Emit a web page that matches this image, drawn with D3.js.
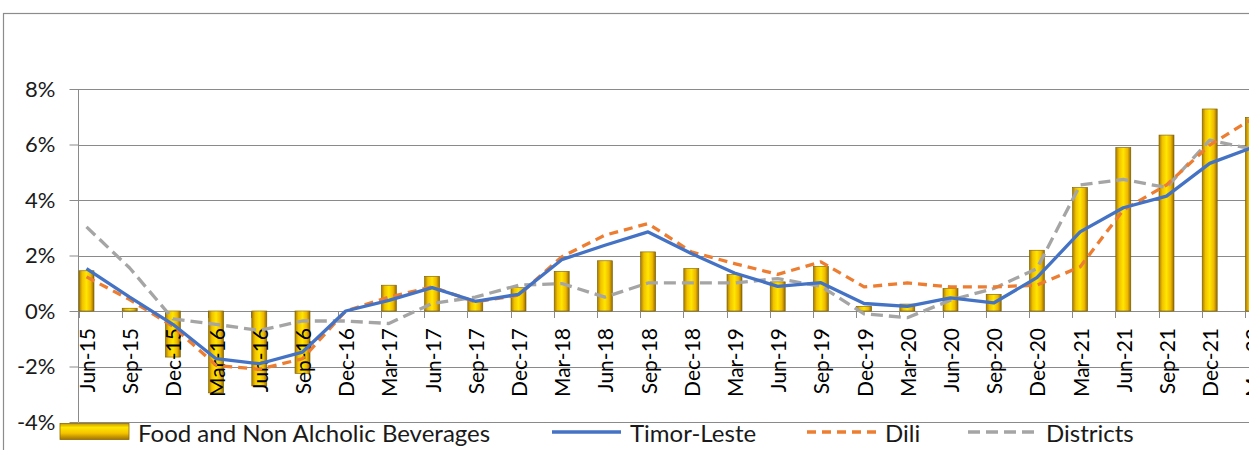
<!DOCTYPE html>
<html>
<head>
<meta charset="utf-8">
<script src="https://cdn.jsdelivr.net/npm/d3@7"></script>
<style>
  body { margin: 0; background: #fff; overflow: hidden; }
  svg { display: block; font-family: Lato, "Open Sans", sans-serif; }
</style>
</head>
<body>
<div id="chart"></div>
<script>
// quarterly categories
const quarters = ['Jun-15', 'Sep-15', 'Dec-15', 'Mar-16', 'Jun-16', 'Sep-16', 'Dec-16', 'Mar-17',
  'Jun-17', 'Sep-17', 'Dec-17', 'Mar-18', 'Jun-18', 'Sep-18', 'Dec-18', 'Mar-19', 'Jun-19',
  'Sep-19', 'Dec-19', 'Mar-20', 'Jun-20', 'Sep-20', 'Dec-20', 'Mar-21', 'Jun-21', 'Sep-21',
  'Dec-21', 'Mar-22'];

// values in %
const foodValues = [1.45, 0.1, -1.66, -2.95, -2.7, -2.25, 0.0, 0.93, 1.25, 0.39, 0.84, 1.43,
  1.81, 2.13, 1.53, 1.31, 1.05, 1.61, 0.17, 0.25, 0.81, 0.6, 2.19, 4.45, 5.89, 6.34, 7.28, 6.98];
const timorValues = [1.53, 0.5, -0.48, -1.72, -1.9, -1.48, 0.0, 0.38, 0.84, 0.35, 0.6, 1.85,
  2.37, 2.85, 2.07, 1.37, 0.89, 1.02, 0.27, 0.17, 0.47, 0.29, 1.2, 2.85, 3.72, 4.14, 5.32, 5.9];
const diliValues = [1.23, 0.41, -0.55, -1.96, -2.1, -1.72, 0.0, 0.5, 0.87, 0.33, 0.57, 1.95,
  2.73, 3.15, 2.13, 1.71, 1.32, 1.77, 0.87, 1.01, 0.87, 0.87, 0.93, 1.59, 3.64, 4.54, 5.98, 6.94];
const districtValues = [3.03, 1.55, -0.28, -0.48, -0.7, -0.36, -0.36, -0.45, 0.27, 0.5, 0.93, 0.99,
  0.5, 1.01, 1.01, 1.01, 1.17, 0.89, -0.1, -0.24, 0.39, 0.81, 1.53, 4.54, 4.74, 4.45, 6.16, 5.83];

const yTicks = [-4, -2, 0, 2, 4, 6, 8];

const width = 1249;
const height = 450;

const svg = d3.select('#chart')
  .append('svg')
  .attr('width', width)
  .attr('height', height);

const defs = svg.append('defs');

const barGrad = defs.append('linearGradient')
  .attr('id', 'barGrad')
  .attr('x1', 0).attr('x2', 1).attr('y1', 0).attr('y2', 0);
barGrad.append('stop').attr('offset', '0%').attr('stop-color', '#a67c00');
barGrad.append('stop').attr('offset', '22%').attr('stop-color', '#f2c200');
barGrad.append('stop').attr('offset', '50%').attr('stop-color', '#ffe600');
barGrad.append('stop').attr('offset', '78%').attr('stop-color', '#f0b800');
barGrad.append('stop').attr('offset', '100%').attr('stop-color', '#8f6a00');

const legendGrad = defs.append('linearGradient')
  .attr('id', 'legendGrad')
  .attr('x1', 0).attr('x2', 0).attr('y1', 0).attr('y2', 1);
legendGrad.append('stop').attr('offset', '0%').attr('stop-color', '#c89a00');
legendGrad.append('stop').attr('offset', '25%').attr('stop-color', '#ffe600');
legendGrad.append('stop').attr('offset', '60%').attr('stop-color', '#f5c400');
legendGrad.append('stop').attr('offset', '100%').attr('stop-color', '#a07400');

// outer chart frame (cropped)
svg.append('rect')
  .attr('x', 3.5)
  .attr('y', 13.5)
  .attr('width', 1400)
  .attr('height', 500)
  .attr('fill', 'none')
  .attr('stroke', '#8c8c8c')
  .attr('stroke-width', 1.2);

const left = 78.5;
const step = 43.2;

const x = d3.scaleBand()
  .domain(quarters)
  .range([left, left + step * quarters.length]);

const y = d3.scaleLinear()
  .domain([-4, 8])
  .range([422, 89]);

const cx = (q) => x(q) + 8;

// gridlines
svg.append('g')
  .selectAll('line')
  .data(yTicks)
  .enter()
  .append('line')
  .attr('x1', left)
  .attr('x2', width)
  .attr('y1', (d) => Math.round(y(d)) + 0.5)
  .attr('y2', (d) => Math.round(y(d)) + 0.5)
  .attr('stroke', '#8a8a8a')
  .attr('stroke-width', 1);

// y axis
const yAxis = svg.append('g')
  .attr('transform', `translate(${left},0)`)
  .call(d3.axisLeft(y)
    .tickValues(yTicks)
    .tickSize(9)
    .tickPadding(14)
    .tickFormat((d) => d + '%'));
yAxis.select('.domain').attr('stroke', '#8a8a8a').attr('d', `M0,${y(8)}V${y(-4)}`);
yAxis.selectAll('.tick line').attr('stroke', '#8a8a8a');
yAxis.selectAll('.tick text')
  .attr('font-size', 22)
  .attr('fill', '#1a1a1a')
  .attr('font-family', 'Lato, sans-serif');

// x tick marks on the zero line
svg.append('g')
  .selectAll('line')
  .data(quarters)
  .enter()
  .append('line')
  .attr('x1', (d) => Math.round(x(d)) + 0.5)
  .attr('x2', (d) => Math.round(x(d)) + 0.5)
  .attr('y1', y(0))
  .attr('y2', y(0) + 7)
  .attr('stroke', '#8a8a8a');

// bars
const barData = quarters.map((q, i) => ({ q: q, v: foodValues[i] }));

svg.append('g')
  .selectAll('rect')
  .data(barData)
  .enter()
  .append('rect')
  .attr('x', (d) => x(d.q) + 0.5)
  .attr('width', 15)
  .attr('y', (d) => y(Math.max(0, d.v)))
  .attr('height', (d) => Math.abs(y(d.v) - y(0)))
  .attr('fill', 'url(#barGrad)')
  .attr('stroke', '#7a5c00')
  .attr('stroke-width', 0.6);

// x labels
svg.append('g')
  .selectAll('text')
  .data(quarters)
  .enter()
  .append('text')
  .attr('transform', (d) => `translate(${cx(d)},328) rotate(-90)`)
  .attr('text-anchor', 'end')
  .attr('dominant-baseline', 'central')
  .attr('font-size', 21)
  .attr('fill', '#000')
  .text((d) => d);

// lines
const lineGen = (vals) => d3.line()
  .x((d, i) => cx(quarters[i]))
  .y((d) => y(d))(vals);

const series = [
  { name: 'Districts', vals: districtValues, color: '#a5a5a5', dash: '12,6' },
  { name: 'Dili', vals: diliValues, color: '#ed7d31', dash: '9,6' },
  { name: 'Timor-Leste', vals: timorValues, color: '#4472c4', dash: null }
];

series.forEach((s) => {
  svg.append('path')
    .attr('d', lineGen(s.vals))
    .attr('fill', 'none')
    .attr('stroke', s.color)
    .attr('stroke-width', 3.3)
    .attr('stroke-linejoin', 'round')
    .attr('stroke-dasharray', s.dash);
});

// legend
const legend = svg.append('g');
const legendY = 432;

legend.append('rect')
  .attr('x', 60)
  .attr('y', 423.5)
  .attr('width', 69)
  .attr('height', 16)
  .attr('fill', 'url(#legendGrad)')
  .attr('stroke', '#8f6a00')
  .attr('stroke-width', 0.8);

const legendItems = [
  { label: 'Food and Non Alcholic Beverages', tx: 138, line: null },
  { label: 'Timor-Leste', tx: 630, line: [552, 621], color: '#4472c4', dash: null },
  { label: 'Dili', tx: 885, line: [807, 878], color: '#ed7d31', dash: '9,6' },
  { label: 'Districts', tx: 1046, line: [968, 1038], color: '#a5a5a5', dash: '12,6' }
];

legendItems.forEach((item) => {
  if (item.line) {
    legend.append('line')
      .attr('x1', item.line[0])
      .attr('x2', item.line[1])
      .attr('y1', legendY)
      .attr('y2', legendY)
      .attr('stroke', item.color)
      .attr('stroke-width', 3.3)
      .attr('stroke-dasharray', item.dash);
  }
  legend.append('text')
    .attr('x', item.tx)
    .attr('y', legendY)
    .attr('dominant-baseline', 'central')
    .attr('font-size', 24)
    .attr('fill', '#1a1a1a')
    .text(item.label);
});
</script>
</body>
</html>
